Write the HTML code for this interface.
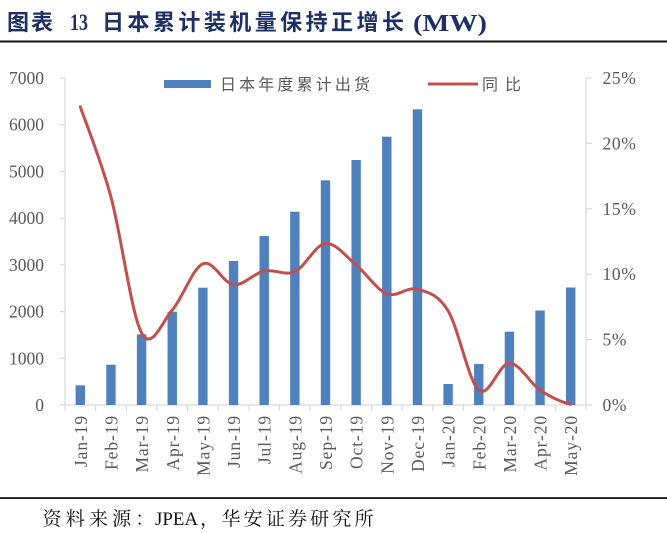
<!DOCTYPE html>
<html>
<head>
<meta charset="utf-8">
<style>
html,body{margin:0;padding:0;background:#fff;}
body{width:667px;height:533px;overflow:hidden;}
svg{display:block;}
</style>
</head>
<body>
<svg width="667" height="533" viewBox="0 0 667 533" xmlns="http://www.w3.org/2000/svg">
  <rect x="0" y="0" width="667" height="533" fill="#ffffff"/>
  <!-- Title -->
  <g fill="#1e2f66" font-weight="bold">
    <text x="7" y="30" font-family="'Noto Sans CJK SC', sans-serif" font-size="22" textLength="46" lengthAdjust="spacing">图表</text>
    <text x="70" y="30" font-family="'Liberation Serif', serif" font-size="23" textLength="18" lengthAdjust="spacingAndGlyphs">13</text>
    <text x="102" y="30" font-family="'Noto Sans CJK SC', sans-serif" font-size="22" textLength="302" lengthAdjust="spacing">日本累计装机量保持正增长</text>
    <text x="413" y="31" font-family="'Liberation Serif', serif" font-size="24" textLength="74" lengthAdjust="spacingAndGlyphs">(MW)</text>
  </g>
  <rect x="0" y="40.5" width="667" height="2" fill="#111"/>

  <!-- Axes -->
  <g stroke="#d9d9d9" stroke-width="1.2" fill="none">
    <line x1="65" y1="78" x2="65" y2="405"/>
    <line x1="586" y1="78" x2="586" y2="405"/>
    <line x1="60" y1="405" x2="592" y2="405"/>
    <!-- left ticks -->
    <line x1="60" y1="358.29" x2="65" y2="358.29"/>
    <line x1="60" y1="311.57" x2="65" y2="311.57"/>
    <line x1="60" y1="264.86" x2="65" y2="264.86"/>
    <line x1="60" y1="218.14" x2="65" y2="218.14"/>
    <line x1="60" y1="171.43" x2="65" y2="171.43"/>
    <line x1="60" y1="124.71" x2="65" y2="124.71"/>
    <line x1="60" y1="78" x2="65" y2="78"/>
    <!-- right ticks -->
    <line x1="586" y1="339.6" x2="592" y2="339.6"/>
    <line x1="586" y1="274.2" x2="592" y2="274.2"/>
    <line x1="586" y1="208.8" x2="592" y2="208.8"/>
    <line x1="586" y1="143.4" x2="592" y2="143.4"/>
    <line x1="586" y1="78" x2="592" y2="78"/>
    <!-- bottom ticks -->
    <line x1="65" y1="405" x2="65" y2="411"/>
    <line x1="95.65" y1="405" x2="95.65" y2="411"/>
    <line x1="126.3" y1="405" x2="126.3" y2="411"/>
    <line x1="156.95" y1="405" x2="156.95" y2="411"/>
    <line x1="187.6" y1="405" x2="187.6" y2="411"/>
    <line x1="218.25" y1="405" x2="218.25" y2="411"/>
    <line x1="248.9" y1="405" x2="248.9" y2="411"/>
    <line x1="279.55" y1="405" x2="279.55" y2="411"/>
    <line x1="310.2" y1="405" x2="310.2" y2="411"/>
    <line x1="340.85" y1="405" x2="340.85" y2="411"/>
    <line x1="371.5" y1="405" x2="371.5" y2="411"/>
    <line x1="402.15" y1="405" x2="402.15" y2="411"/>
    <line x1="432.8" y1="405" x2="432.8" y2="411"/>
    <line x1="463.45" y1="405" x2="463.45" y2="411"/>
    <line x1="494.1" y1="405" x2="494.1" y2="411"/>
    <line x1="524.75" y1="405" x2="524.75" y2="411"/>
    <line x1="555.4" y1="405" x2="555.4" y2="411"/>
    <line x1="586.05" y1="405" x2="586.05" y2="411"/>
  </g>

  <!-- Left axis labels -->
  <g font-family="'Liberation Serif', serif" font-size="17.5" fill="#595959" text-anchor="end">
    <text x="44" y="411">0</text>
    <text x="44" y="364.3">1000</text>
    <text x="44" y="317.6">2000</text>
    <text x="44" y="270.9">3000</text>
    <text x="44" y="224.1">4000</text>
    <text x="44" y="177.4">5000</text>
    <text x="44" y="130.7">6000</text>
    <text x="44" y="84">7000</text>
  </g>
  <!-- Right axis labels -->
  <g font-family="'Liberation Serif', serif" font-size="17.5" fill="#595959">
    <text x="602.5" y="411" letter-spacing="0.6">0%</text>
    <text x="602.5" y="345.6" letter-spacing="0.6">5%</text>
    <text x="602.5" y="280.2" letter-spacing="0.6">10%</text>
    <text x="602.5" y="214.8" letter-spacing="0.6">15%</text>
    <text x="602.5" y="149.4" letter-spacing="0.6">20%</text>
    <text x="602.5" y="84" letter-spacing="0.6">25%</text>
  </g>

  <!-- Bars -->
  <g fill="#4f81bd">
    <rect x="75.6" y="385.3" width="9.4" height="19.7"/>
    <rect x="106.25" y="364.7" width="9.4" height="40.3"/>
    <rect x="136.9" y="334.3" width="9.4" height="70.7"/>
    <rect x="167.55" y="311.7" width="9.4" height="93.3"/>
    <rect x="198.2" y="287.7" width="9.4" height="117.3"/>
    <rect x="228.85" y="261" width="9.4" height="144"/>
    <rect x="259.5" y="236" width="9.4" height="169"/>
    <rect x="290.15" y="211.7" width="9.4" height="193.3"/>
    <rect x="320.8" y="180.3" width="9.4" height="224.7"/>
    <rect x="351.45" y="160" width="9.4" height="245"/>
    <rect x="382.1" y="136.7" width="9.4" height="268.3"/>
    <rect x="412.75" y="109.3" width="9.4" height="295.7"/>
    <rect x="443.4" y="384" width="9.4" height="21"/>
    <rect x="474.05" y="364" width="9.4" height="41"/>
    <rect x="504.7" y="331.7" width="9.4" height="73.3"/>
    <rect x="535.35" y="310.5" width="9.4" height="94.5"/>
    <rect x="566" y="287.5" width="9.4" height="117.5"/>
  </g>

  <!-- Line -->
  <path fill="none" stroke="#c0504d" stroke-width="3" stroke-linecap="round" stroke-linejoin="round"
    d="M80.3 106.8
       C85.41 121.83 100.73 159.3 110.95 197
       C121.17 234.7 131.38 314.17 141.6 333
       C151.82 351.83 162.03 321.55 172.25 310
       C182.47 298.45 192.68 267.92 202.9 263.7
       C213.12 259.48 223.33 283.5 233.55 284.7
       C243.77 285.9 253.98 273.08 264.2 270.9
       C274.42 268.72 284.63 276.17 294.85 271.6
       C305.07 267.03 315.28 244.6 325.5 243.5
       C335.72 242.4 345.93 256.62 356.15 265
       C366.37 273.38 376.58 289.77 386.8 293.8
       C397.02 297.83 407.23 286.37 417.45 289.2
       C427.67 292.03 437.88 294 448.1 310.8
       C458.32 327.6 468.53 381.28 478.75 390
       C488.97 398.72 499.18 363.1 509.4 363.1
       C519.62 363.1 529.83 383.13 540.05 390
       C550.27 396.87 560.48 401.92 570.7 404.3"/>

  <!-- X labels -->
  <g font-family="'Liberation Serif', serif" font-size="17.5" fill="#595959" text-anchor="end" letter-spacing="0.9">
    <text transform="translate(86.8,415) rotate(-90)">Jan-19</text>
    <text transform="translate(117.45,415) rotate(-90)">Feb-19</text>
    <text transform="translate(148.1,415) rotate(-90)">Mar-19</text>
    <text transform="translate(178.75,415) rotate(-90)">Apr-19</text>
    <text transform="translate(209.4,415) rotate(-90)">May-19</text>
    <text transform="translate(240.05,415) rotate(-90)">Jun-19</text>
    <text transform="translate(270.7,415) rotate(-90)">Jul-19</text>
    <text transform="translate(301.35,415) rotate(-90)">Aug-19</text>
    <text transform="translate(332,415) rotate(-90)">Sep-19</text>
    <text transform="translate(362.65,415) rotate(-90)">Oct-19</text>
    <text transform="translate(393.3,415) rotate(-90)">Nov-19</text>
    <text transform="translate(423.95,415) rotate(-90)">Dec-19</text>
    <text transform="translate(454.6,415) rotate(-90)">Jan-20</text>
    <text transform="translate(485.25,415) rotate(-90)">Feb-20</text>
    <text transform="translate(515.9,415) rotate(-90)">Mar-20</text>
    <text transform="translate(546.55,415) rotate(-90)">Apr-20</text>
    <text transform="translate(577.2,415) rotate(-90)">May-20</text>
  </g>

  <!-- Legend -->
  <rect x="164" y="80" width="47" height="8" fill="#4f81bd"/>
  <text x="220" y="90" font-family="'Noto Sans CJK SC', sans-serif" font-size="16" fill="#595959" textLength="150" lengthAdjust="spacing">日本年度累计出货</text>
  <line x1="428" y1="84" x2="478" y2="84" stroke="#c0504d" stroke-width="3"/>
  <text x="482" y="90" font-family="'Noto Sans CJK SC', sans-serif" font-size="16" fill="#595959" textLength="39" lengthAdjust="spacing">同比</text>

  <!-- Bottom rule and source -->
  <rect x="0" y="497.2" width="667" height="1.8" fill="#111"/>
  <g font-size="19" fill="#111">
    <text x="42.5" y="525" font-family="'Noto Serif CJK SC', serif" letter-spacing="4.2">资料来源：</text>
    <text x="155" y="525" font-family="'Liberation Serif', serif" textLength="43" lengthAdjust="spacingAndGlyphs">JPEA</text>
    <text x="200" y="525" font-family="'Noto Serif CJK SC', serif">，</text>
    <text x="221.5" y="525" font-family="'Noto Serif CJK SC', serif" textLength="152" lengthAdjust="spacing">华安证券研究所</text>
  </g>
</svg>
</body>
</html>
